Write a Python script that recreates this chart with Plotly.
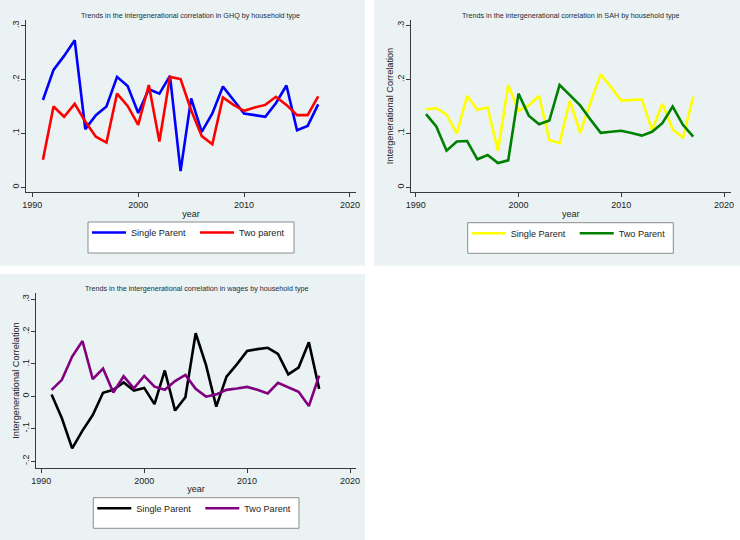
import plotly.graph_objects as go

W, H = 740, 540

years = list(range(1991, 2018))

ghq_single = [0.162, 0.218, 0.244, 0.273, 0.108, 0.134, 0.150, 0.205, 0.188, 0.138,
              0.182, 0.174, 0.207, 0.030, 0.165, 0.103, 0.137, 0.187, 0.162, 0.137,
              0.134, 0.131, 0.156, 0.189, 0.106, 0.114, 0.154]
ghq_two = [0.051, 0.150, 0.131, 0.155, 0.122, 0.094, 0.083, 0.174, 0.151, 0.116,
           0.190, 0.085, 0.205, 0.201, 0.143, 0.095, 0.080, 0.167, 0.153, 0.142,
           0.148, 0.153, 0.168, 0.153, 0.134, 0.134, 0.169]

sah_single = [0.145, 0.147, 0.135, 0.100, 0.170, 0.144, 0.148, 0.068, 0.190, 0.142,
              0.152, 0.170, 0.088, 0.082, 0.161, 0.101, 0.157, 0.210, 0.186, 0.161,
              0.162, 0.163, 0.106, 0.155, 0.108, 0.092, 0.168]
sah_two = [0.136, 0.113, 0.068, 0.085, 0.086, 0.052, 0.060, 0.045, 0.050, 0.174,
           0.133, 0.117, 0.124, 0.190, 0.171, 0.152, 0.126, 0.101, 0.103, 0.105,
           0.101, 0.096, 0.103, 0.119, 0.150, 0.116, 0.094]

wage_single = [0.006, -0.068, -0.161, -0.106, -0.058, 0.011, 0.020, 0.043, 0.018, 0.026,
               -0.024, 0.080, -0.044, -0.003, 0.195, 0.097, -0.032, 0.061, 0.099, 0.140,
               0.146, 0.150, 0.131, 0.068, 0.089, 0.167, 0.023]
wage_two = [0.020, 0.051, 0.123, 0.171, 0.053, 0.086, 0.012, 0.062, 0.025, 0.063,
            0.030, 0.020, 0.047, 0.066, 0.023, -0.001, 0.006, 0.020, 0.024, 0.029,
            0.020, 0.009, 0.042, 0.029, 0.014, -0.030, 0.064]

titles = ["Trends in the intergenerational correlation in GHQ by household type",
          "Trends in the intergenerational correlation in SAH by household type",
          "Trends in the intergenerational correlation in wages by household type"]
legend_names = [["Single Parent", "Two parent"],
                ["Single Parent", "Two Parent"],
                ["Single Parent", "Two Parent"]]
y_title = "Intergenerational Correlation"
x_title = "year"

x_tickvals = [1990, 2000, 2010, 2020]
y_tickvals_top = [0, 0.1, 0.2, 0.3]
y_ticktext_top = ["0", ".1", ".2", ".3"]
y_tickvals_bot = [-0.2, -0.1, 0, 0.1, 0.2, 0.3]
y_ticktext_bot = ["-.2", "-.1", "0", ".1", ".2", ".3"]

colors = [["#0000FF", "#FF0000"], ["#FFFF00", "#008000"], ["#000000", "#800080"]]

FONT = "Liberation Sans, Arial, sans-serif"
BG = "#EAF2F3"
AX = "#3a3a3a"


def fx(px):
    return px / W


def fy(py):
    return 1 - py / H


# plot-region pixel boxes (left, top, right, bottom)
plot_boxes = [(26, 20, 356, 192), (410.7, 20, 730.7, 192), (36, 293.3, 356, 467.7)]
x_ranges = [[1989.40, 2020.57], [1989.51, 2020.65], [1989.485, 2020.58]]
y_ranges = [[-0.0087, 0.3106], [-0.0087, 0.3106], [-0.2207, 0.3186]]
panel_boxes = [(0, 0, 365, 265.7), (374, 0, 740, 265.7), (0, 274, 365, 540)]
legend_boxes = [(88, 222, 294, 253), (467.7, 222.7, 673.3, 253.3), (93.3, 497.7, 299, 528.3)]

series = [(ghq_single, ghq_two), (sah_single, sah_two), (wage_single, wage_two)]

fig = go.Figure()
layout = dict(
    width=W, height=H, autosize=False,
    margin=dict(l=0, r=0, t=0, b=0, pad=0, autoexpand=False),
    paper_bgcolor="white",
    plot_bgcolor="white",
    font=dict(family=FONT, color="#222222"),
    showlegend=True,
    shapes=[],
    annotations=[],
)

for i in range(3):
    sfx = "" if i == 0 else str(i + 1)
    leg = "legend" + sfx
    for j in range(2):
        fig.add_trace(go.Scatter(
            x=years, y=series[i][j], mode="lines",
            name=legend_names[i][j],
            line=dict(color=colors[i][j], width=2.6),
            xaxis="x" + sfx, yaxis="y" + sfx, legend=leg,
            hoverinfo="skip",
        ))
    l, t, r, b = plot_boxes[i]
    top = i < 2
    layout["xaxis" + sfx] = dict(
        domain=[fx(l), fx(r)], anchor="y" + sfx, range=x_ranges[i], automargin=False,
        tickvals=x_tickvals, showline=True, linecolor=AX, linewidth=1,
        ticks="outside", ticklen=4, tickcolor=AX, showgrid=False, zeroline=False,
        tickfont=dict(size=9, color="#222222", family=FONT),
        title=dict(text=x_title, standoff=1, font=dict(size=9, color="#222222", family=FONT)),
    )
    layout["yaxis" + sfx] = dict(
        domain=[fy(b), fy(t)], anchor="x" + sfx, range=y_ranges[i], automargin=False,
        tickvals=y_tickvals_top if top else y_tickvals_bot,
        ticktext=y_ticktext_top if top else y_ticktext_bot,
        tickangle=-90, showline=True, linecolor=AX, linewidth=1,
        ticks="outside", ticklen=4, tickcolor=AX, ticklabelstandoff=-2,
        showgrid=True, gridcolor=BG, gridwidth=1, zeroline=False,
        tickfont=dict(size=9, color="#222222", family=FONT),
        title=dict(text=(y_title if i > 0 else ""), standoff=0,
                   font=dict(size=9.2, color="#222222", family=FONT)),
    )
    pl, pt, pr, pb = panel_boxes[i]
    layout["shapes"].append(dict(type="rect", xref="paper", yref="paper",
                                 x0=fx(pl), x1=fx(pr), y0=fy(pb), y1=fy(pt),
                                 fillcolor=BG, line=dict(width=0), layer="below"))
    bl, bt, br, bb = legend_boxes[i]
    layout["shapes"].append(dict(type="rect", xref="paper", yref="paper",
                                 x0=fx(bl), x1=fx(br), y0=fy(bb), y1=fy(bt),
                                 fillcolor="white", line=dict(color="#8c8c8c", width=1),
                                 layer="below"))
    layout[leg] = dict(
        orientation="h", x=fx(bl - 1), y=fy(bt - 4), xanchor="left", yanchor="top",
        bgcolor="rgba(0,0,0,0)", borderwidth=0,
        font=dict(size=9.1, color="#222222", family=FONT),
        itemwidth=34, entrywidth=59, entrywidthmode="pixels",
        traceorder="normal",
    )
    layout["annotations"].append(dict(
        text=titles[i], xref="paper", yref="paper",
        x=fx((l + r) / 2), y=fy(t - 5), xanchor="center", yanchor="middle",
        showarrow=False, font=dict(size=7.2, color="#1f2a36", family=FONT),
    ))

fig.update_layout(**layout)
fig.write_html("out.html", config={"displayModeBar": False},
               post_script="document.body.style.margin='0';document.body.style.overflow='hidden';")
